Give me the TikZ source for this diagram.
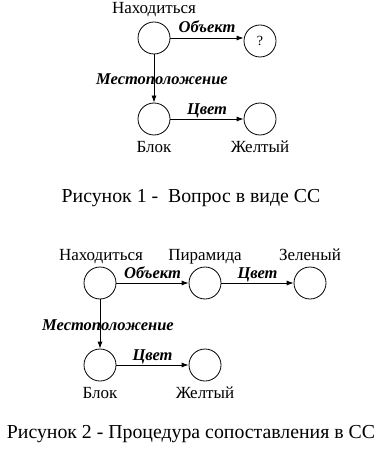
\documentclass[tikz,border=0pt]{standalone}
\usepackage{fontspec}
\setmainfont{Liberation Serif}
\newfontfamily\rufont{Liberation Serif}
\usetikzlibrary{arrows.meta, positioning}

\begin{document}
\begin{tikzpicture}[x=1pt, y=-1pt,
    vertex/.style={draw, circle, thick, minimum size=32pt, inner sep=0pt, font=\rufont\fontsize{14}{16}\selectfont},
    rel/.style={-{Latex[length=7pt, width=5pt]}, thick},
    nodetext/.style={font=\rufont\fontsize{17}{19}\selectfont, inner sep=0pt, anchor=base},
    rellabel/.style={font=\rufont\fontsize{16.5}{19}\selectfont\bfseries\itshape, inner sep=0pt, anchor=base},
    figcap/.style={font=\rufont\fontsize{19.8}{22}\selectfont, inner sep=0pt, anchor=base}
]
\useasboundingbox (0,0) rectangle (382,462);

% Рисунок 1
\node[vertex] (find1) at (154,38) {};
\node[vertex] (quest) at (260,41) {?};
\node[vertex] (block1) at (154,119) {};
\node[vertex] (yellow1) at (260,119) {};
\node[nodetext] (find1-lbl) at (154,14) {Находиться};
\node[nodetext] (block1-lbl) at (154,153) {Блок};
\node[nodetext] (yellow1-lbl) at (260,153) {Желтый};
\draw[rel] (find1.east) -- node[rellabel, yshift=5pt] {Объект} (find1.east -| quest.west);
\draw[rel] (find1) -- node[rellabel, xshift=8pt, yshift=-6.5pt] {Местоположение} (block1);
\draw[rel] (block1) -- node[rellabel, yshift=4.5pt] {Цвет} (yellow1);
\node[figcap] (cap1) at (191,202) {Рисунок 1 -\ \ Вопрос в виде СС};

% Рисунок 2
\node[vertex] (find2) at (100,283) {};
\node[vertex] (pyramid) at (205,283) {};
\node[vertex] (green) at (310,283) {};
\node[vertex] (block2) at (100,365) {};
\node[vertex] (yellow2) at (205,365) {};
\node[nodetext] (find2-lbl) at (101,260) {Находиться};
\node[nodetext] (pyramid-lbl) at (205,260) {Пирамида};
\node[nodetext] (green-lbl) at (310,260) {Зеленый};
\node[nodetext] (block2-lbl) at (100,398) {Блок};
\node[nodetext] (yellow2-lbl) at (205,398) {Желтый};
\draw[rel] (find2) -- node[rellabel, yshift=5pt] {Объект} (pyramid);
\draw[rel] (pyramid) -- node[rellabel, yshift=5pt] {Цвет} (green);
\draw[rel] (find2) -- node[rellabel, xshift=8pt, yshift=-6.5pt] {Местоположение} (block2);
\draw[rel] (block2) -- node[rellabel, yshift=5pt] {Цвет} (yellow2);
\node[figcap] (cap2) at (191,438) {Рисунок 2 - Процедура сопоставления в СС};
\end{tikzpicture}
\end{document}
